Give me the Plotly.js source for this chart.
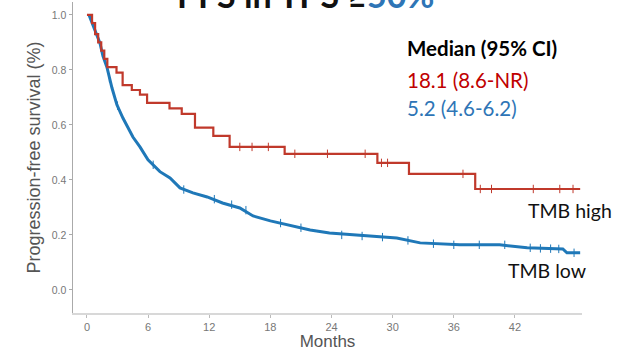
<!DOCTYPE html>
<html>
<head>
<meta charset="utf-8">
<script src="https://cdn.plot.ly/plotly-3.0.1.min.js"></script>
<style>html,body{margin:0;padding:0;background:#fff;}#chart{width:619px;height:351px;}</style>
</head>
<body>
<div id="chart"></div>
<script>
// TMB high (Kaplan-Meier steps)
var highMonths = [0, 0.2, 0.5, 0.8, 1.1, 1.4, 1.7, 2.0, 2.9, 3.5, 4.4, 5.2, 5.9, 8.1, 9.3, 10.6, 12.4, 14.0, 19.4, 28.5, 31.6, 38.1, 48.4];
var highSurv   = [1.0, 1.0, 0.97, 0.93, 0.90, 0.87, 0.84, 0.81, 0.79, 0.745, 0.727, 0.71, 0.68, 0.66, 0.64, 0.59, 0.56, 0.52, 0.495, 0.462, 0.422, 0.367, 0.367];
var highCensorMonths = [15.0, 16.2, 17.8, 20.4, 23.6, 27.3, 28.9, 29.5, 36.9, 38.6, 39.7, 43.8, 46.4, 47.7];
var highCensorSurv   = [0.52, 0.52, 0.52, 0.495, 0.495, 0.495, 0.462, 0.462, 0.422, 0.367, 0.367, 0.367, 0.367, 0.367];

// TMB low
var lowMonths = [0.2, 0.8, 1.27, 1.57, 1.96, 2.45, 2.94, 3.53, 4.51, 5.2, 5.99, 7.16, 8.15, 9.13, 10.4, 11.8, 13.3, 15.0, 16.3, 18.0, 19.9, 21.9, 23.8, 27.5, 30.4, 32.7, 36.6, 40.5, 43.2, 46.7, 47.1, 48.4];
var lowSurv   = [1.0, 0.945, 0.898, 0.85, 0.81, 0.735, 0.673, 0.625, 0.556, 0.52, 0.473, 0.43, 0.407, 0.371, 0.353, 0.338, 0.316, 0.298, 0.269, 0.251, 0.236, 0.218, 0.207, 0.196, 0.189, 0.171, 0.164, 0.164, 0.153, 0.149, 0.135, 0.135];
var lowCensorMonths = [2.2, 3.0, 6.5, 9.5, 12.5, 14.2, 15.6, 19.0, 21.0, 25.0, 27.0, 29.0, 31.5, 34.0, 36.0, 38.5, 41.0, 43.5, 44.5, 45.5, 46.3, 47.8];
var lowCensorSurv   = [0.77, 0.67, 0.455, 0.365, 0.33, 0.31, 0.29, 0.243, 0.226, 0.2, 0.196, 0.192, 0.18, 0.168, 0.164, 0.164, 0.164, 0.153, 0.151, 0.15, 0.149, 0.135];

var xTicks = [0, 6, 12, 18, 24, 30, 36, 42];
var yTicks = [0.0, 0.2, 0.4, 0.6, 0.8, 1.0];

var seriesNames = ["TMB high", "TMB low"];
var medianHeader = "Median (95% CI)";
var medianTexts = ["18.1 (8.6-NR)", "5.2 (4.6-6.2)"];
var titleMain = "PFS in TPS ≥";
var titleCut = "50%";

var RED = "#c0392b", BLUE = "#1f78b8";

var traces = [
  {x: lowMonths, y: lowSurv, mode: "lines", line: {color: BLUE, width: 3, shape: "linear"}, hoverinfo: "skip", showlegend: false},
  {x: lowCensorMonths, y: lowCensorSurv, mode: "markers", marker: {symbol: "line-ns", size: 6, line: {color: BLUE, width: 1}}, hoverinfo: "skip", showlegend: false},
  {x: highMonths, y: highSurv, mode: "lines", line: {color: RED, width: 2.2, shape: "hv"}, hoverinfo: "skip", showlegend: false},
  {x: highCensorMonths, y: highCensorSurv, mode: "markers", marker: {symbol: "line-ns", size: 6, line: {color: RED, width: 1}}, hoverinfo: "skip", showlegend: false}
];

var calib = "Lato, 'Open Sans', sans-serif";
var layout = {
  width: 619, height: 351,
  margin: {l: 73, r: 37, t: 2, b: 38},
  paper_bgcolor: "#fff", plot_bgcolor: "#fff",
  showlegend: false,
  font: {family: "Arial, 'Liberation Sans', sans-serif"},
  xaxis: {
    range: [-1.37, 48.58], tickvals: xTicks, ticktext: xTicks.map(String),
    showgrid: false, zeroline: false, showline: true, linecolor: "#d8d8d8", linewidth: 1.5,
    ticks: "outside", ticklen: 3, tickcolor: "#bbb", tickfont: {size: 11, color: "#777"},
    title: {text: "Months", font: {size: 17, color: "#555"}, standoff: 2}
  },
  yaxis: {
    range: [-0.084, 1.047], tickvals: yTicks, tickformat: ".1f",
    showgrid: false, zeroline: false, showline: true, linecolor: "#aaa", linewidth: 1.5,
    ticks: "outside", ticklen: 3, tickcolor: "#aaa", tickfont: {size: 10.5, color: "#777"},
    title: {text: "Progression-free survival (%)", font: {size: 18, color: "#555"}, standoff: 6}
  },
  annotations: [
    {xref: "paper", yref: "paper", x: 0.2, y: 1, xanchor: "left", yanchor: "bottom", yshift: -15, showarrow: false,
     text: "<b>" + titleMain + "<span style='color:#2e75b6'>" + titleCut + "</span></b>", font: {family: calib, size: 34, color: "#111"}},
    {xref: "paper", yref: "paper", x: 0.652, y: 0.852, xanchor: "left", yanchor: "middle", showarrow: false,
     text: "<b>" + medianHeader + "</b>", font: {family: calib, size: 20.5, color: "#000"}},
    {xref: "paper", yref: "paper", x: 0.652, y: 0.749, xanchor: "left", yanchor: "middle", showarrow: false,
     text: medianTexts[0], font: {family: calib, size: 20.5, color: "#c00000"}},
    {xref: "paper", yref: "paper", x: 0.652, y: 0.659, xanchor: "left", yanchor: "middle", showarrow: false,
     text: medianTexts[1], font: {family: calib, size: 20.5, color: "#2e75b6"}},
    {xref: "paper", yref: "paper", x: 0.89, y: 0.331, xanchor: "left", yanchor: "middle", showarrow: false,
     text: seriesNames[0], font: {family: calib, size: 19.5, color: "#111"}},
    {xref: "paper", yref: "paper", x: 0.851, y: 0.138, xanchor: "left", yanchor: "middle", showarrow: false,
     text: seriesNames[1], font: {family: calib, size: 19.5, color: "#111"}}
  ]
};

Plotly.newPlot("chart", traces, layout, {displayModeBar: false, staticPlot: true});
</script>
</body>
</html>
